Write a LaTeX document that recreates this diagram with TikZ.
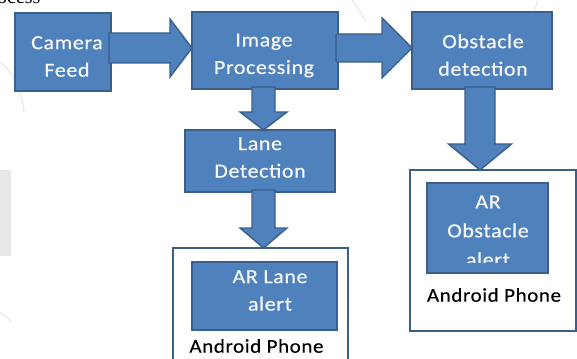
\documentclass[tikz,border=0pt]{standalone}
\usepackage{fontspec}
\usetikzlibrary{calc}
\newfontfamily\boxfont[FakeStretch=1.1, LetterSpace=3, FakeBold=0.6]{Carlito}
\newfontfamily\phonefont[FakeStretch=1.08, LetterSpace=3, FakeBold=0.3]{Carlito}
\newfontfamily\capfont{Liberation Serif}

\definecolor{blockfill}{HTML}{4F81BD}
\definecolor{blockline}{HTML}{3A5F8B}
\definecolor{haze}{HTML}{E8E8E8}

\tikzset{
  block/.style={draw=blockline, line width=1.6pt, fill=blockfill, inner sep=0pt, outer sep=0pt},
  phone/.style={draw=blockline, line width=2.4pt, fill=white, inner sep=0pt, outer sep=0pt},
  blocktext/.style={text=white!94!blockfill, align=center, inner sep=0pt,
    font=\boxfont\fontsize{20}{27.5}\selectfont},
  phonetext/.style={text=black, inner sep=0pt, font=\phonefont\fontsize{19.5}{24}\selectfont},
  blockarrow/.style={draw=blockline, line width=1.4pt, fill=blockfill, line join=miter},
}

% right-pointing block arrow: from, to, y level, shaft half width, head half width, head length
\newcommand\rightblockarrow[6]{%
  \filldraw[blockarrow] let \p1=(#1.east), \p2=(#2.west), \p3=(0,#3) in
    (\x1-2pt,\y3+#4) -- (\x2-#6,\y3+#4) -- (\x2-#6,\y3+#5) -- (\x2,\y3)
    -- (\x2-#6,\y3-#5) -- (\x2-#6,\y3-#4) -- (\x1-2pt,\y3-#4) -- cycle;}
% downward block arrow: from, to, x level, shaft half width, head half width, head length
\newcommand\downblockarrow[6]{%
  \filldraw[blockarrow] let \p1=(#1.south), \p2=(#2.north), \p3=(#3,0) in
    (\x3-#4,\y1+2pt) -- (\x3-#4,\y2+#6) -- (\x3-#5,\y2+#6) -- (\x3,\y2)
    -- (\x3+#5,\y2+#6) -- (\x3+#4,\y2+#6) -- (\x3+#4,\y1+2pt) -- cycle;}

\begin{document}
\begin{tikzpicture}[x=1pt, y=-1pt]
\useasboundingbox (0,0) rectangle (577,358);

% faint background marks
\fill[haze] (0,170) rectangle (11,256);
\draw[haze, line width=1.2pt] (0,312) -- (12,322);
\draw[haze, line width=1.2pt] (0,62) .. controls (14,72) and (22,92) .. (24,112);
\draw[haze, line width=1.2pt] (352,0) .. controls (358,8) and (362,14) .. (366,22);
\draw[haze, line width=1.2pt] (538,0) .. controls (536,6) and (534,12) .. (531,18);

% caption fragment running off the top edge
\node[anchor=base west, inner sep=0pt, font=\capfont\fontsize{20}{24}\selectfont] (cap) at (-3,4) {ocess};

% phone frames
\node[phone, minimum width=175pt, minimum height=124pt] (phoneL) at (260.5,310) {};
\node[phone, minimum width=166pt, minimum height=161pt] (phoneR) at (493,250.5) {};

% processing blocks
\node[block, minimum width=96pt,  minimum height=78pt] (cam)  at (63,52)    {};
\node[block, minimum width=146pt, minimum height=77pt] (img)  at (265,50.5) {};
\node[block, minimum width=140pt, minimum height=77pt] (obs)  at (482,50.5) {};
\node[block, minimum width=150pt, minimum height=62pt] (lane) at (260,161)  {};
\node[block, minimum width=145pt, minimum height=68pt] (lalert) at (264.5,296) {};
\node[block, minimum width=121pt, minimum height=90pt] (oalert) at (487.5,228) {};

% block arrows between stages
\rightblockarrow{cam}{img}{48}{15pt}{29pt}{22pt}
\rightblockarrow{img}{obs}{48}{14pt}{30pt}{30pt}
\downblockarrow{img}{lane}{263.5}{11.5pt}{23.5pt}{18pt}
\downblockarrow{lane}{phoneL}{263.5}{11.5pt}{23.5pt}{20pt}
\downblockarrow{obs}{phoneR}{480}{15pt}{31.5pt}{26pt}

% labels
\node[blocktext] (camT)  at (67,56.5)   {Camera\\Feed};
\node[blocktext] (imgT)  at (264,55.5)  {Image\\Processing};
\node[blocktext] (obsT)  at (483,55)    {Obstacle\\detection};
\node[blocktext] (laneT) at (260,157.5) {Lane\\Detection};
\node[blocktext] (lalT)  at (270,290.5) {AR Lane\\alert};
\begin{scope}
  \clip (427,183) rectangle (548,262);
  \node[blocktext, font=\boxfont\fontsize{20}{29}\selectfont] (oalT) at (488,231) {AR\\Obstacle\\alert};
\end{scope}
\node[phonetext] (phoneLT) at (256.5,346) {Android Phone};
\node[phonetext] (phoneRT) at (494,295)   {Android Phone};
\end{tikzpicture}
\end{document}
